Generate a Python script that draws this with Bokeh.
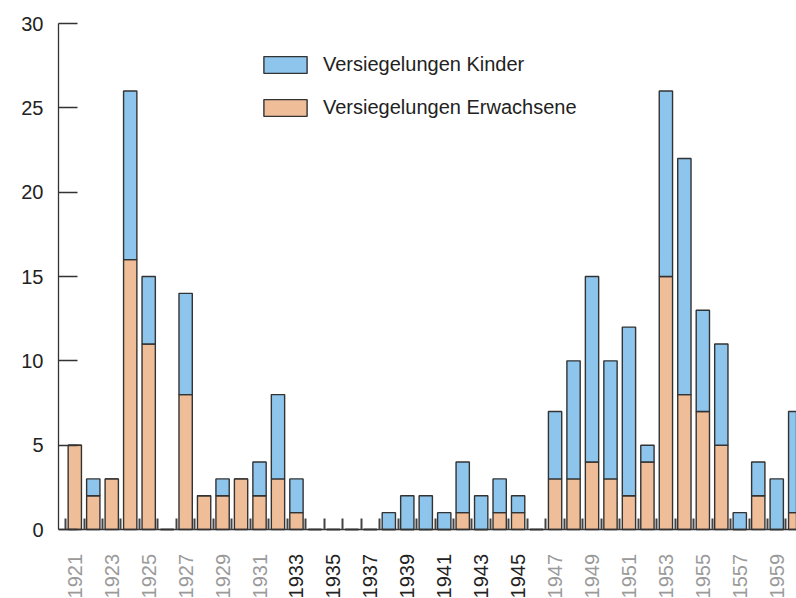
import math
from bokeh.plotting import figure
from bokeh.models import (ColumnDataSource, FixedTicker, Legend, LegendItem)
from bokeh.core.properties import value
from bokeh.embed import file_html
from bokeh.resources import INLINE

# ---- data ----
years = list(range(1921, 1961))
adults = [5, 2, 3, 16, 11, 0, 8, 2, 2, 3, 2, 3, 1, 0, 0, 0, 0, 0, 0, 0,
          0, 1, 0, 1, 1, 0, 3, 3, 4, 3, 2, 4, 15, 8, 7, 5, 0, 2, 0, 1]
kids = [0, 1, 0, 10, 4, 0, 6, 0, 1, 0, 2, 5, 2, 0, 0, 0, 0, 1, 2, 2,
        1, 3, 2, 2, 1, 0, 4, 7, 11, 7, 10, 1, 11, 14, 6, 6, 1, 2, 3, 6]
label_years = list(range(1921, 1960, 2))
label_texts = ["1921", "1923", "1925", "1927", "1929", "1931", "1933", "1935",
               "1937", "1939", "1941", "1943", "1945", "1947", "1949", "1951",
               "1953", "1955", "1557", "1959"]
label_colors = ["#9a9a9a"] * 6 + ["#222222"] * 7 + ["#9a9a9a"] * 7
y_ticks = [0, 5, 10, 15, 20, 25, 30]
series_names = ["Versiegelungen Kinder", "Versiegelungen Erwachsene"]

FONT = "Liberation Sans"
FSIZE = "20px"
BLUE = "#8DC5EC"
ORANGE = "#EFBE98"
EDGE = "#333333"

source = ColumnDataSource(dict(year=years, adults=adults, kids=kids))
lab_src = ColumnDataSource(dict(x=label_years, y=[-1.45] * len(label_years),
                                text=label_texts, color=label_colors))

p = figure(width=796, height=598, x_range=(1920.1175, 1960.07),
           y_range=(-4.09, 30),
           output_backend="svg", toolbar_location=None,
           min_border_left=58, min_border_right=0, min_border_top=23,
           min_border_bottom=0)
p.outline_line_color = None
p.xgrid.visible = False
p.ygrid.visible = False
p.background_fill_color = "white"

rs = p.vbar_stack(["adults", "kids"], x="year", width=0.72, source=source,
                  fill_color=[ORANGE, BLUE], line_color=EDGE, line_width=1.4)

# rotated year labels below the baseline
p.text(x="x", y="y", text="text", source=lab_src, angle=math.pi / 2,
       text_align="right", text_baseline="middle", text_color="color",
       text_font=value(FONT), text_font_size=value(FSIZE))

# x axis: drawn at y = 0, inward ticks at category boundaries, no labels
p.xaxis.fixed_location = 0
p.xaxis.ticker = FixedTicker(ticks=[y - 0.5 for y in years])
p.xaxis.major_tick_in = 11
p.xaxis.major_tick_out = 0
p.xaxis.minor_tick_line_color = None
p.xaxis.major_tick_line_color = "#444444"
p.xaxis.major_tick_line_width = 2
p.xaxis.major_label_text_color = None
p.xaxis.major_label_text_font_size = "0px"
p.xaxis.major_label_standoff = 0
p.xaxis.axis_line_color = EDGE
p.xaxis.axis_line_width = 1.5

# y axis, spanning only 0..30
p.yaxis.bounds = (0, 30)
p.yaxis.ticker = FixedTicker(ticks=y_ticks)
p.yaxis.major_tick_in = 19
p.yaxis.major_tick_out = 0
p.yaxis.minor_tick_line_color = None
p.yaxis.major_tick_line_color = EDGE
p.yaxis.major_tick_line_width = 1.3
p.yaxis.axis_line_color = EDGE
p.yaxis.axis_line_width = 1.3
p.yaxis.major_label_text_font = FONT
p.yaxis.major_label_text_font_size = FSIZE
p.yaxis.major_label_text_color = "#222222"
p.yaxis.major_label_standoff = 15

legend = Legend(items=[LegendItem(label=series_names[0], renderers=[rs[1]]),
                       LegendItem(label=series_names[1], renderers=[rs[0]])],
                location=(200, 479), glyph_width=54, glyph_height=21,
                label_text_font=FONT, label_text_font_size=FSIZE,
                label_text_color="#222222", label_standoff=11,
                padding=0, margin=0, spacing=20,
                border_line_color=None, background_fill_alpha=0)
p.add_layout(legend)

open("out.html", "w").write(file_html(p, INLINE))
